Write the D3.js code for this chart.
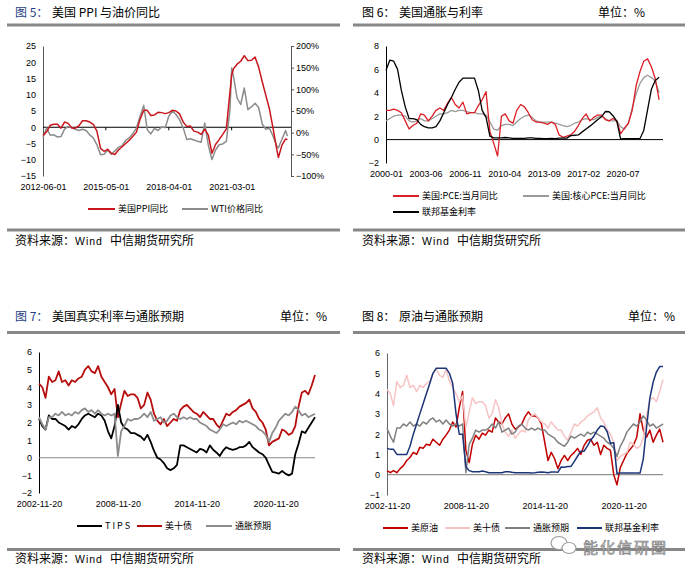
<!DOCTYPE html>
<html>
<head>
<meta charset="utf-8">
<script src="https://cdn.jsdelivr.net/npm/d3@7"></script>
<style>
body { margin: 0; background: #fff; }
svg text { font-family: "Noto Sans CJK SC", "Liberation Sans", sans-serif; }
.ax text { font-family: "Liberation Sans", Arial, sans-serif; font-size: 9px; fill: #000; }
</style>
</head>
<body>
<svg id="chart" width="691" height="575"></svg>
<script>
// ---- 图5: 美国PPI与油价同比 (monthly, read every ~2 months) ----
const ppiDates = ["2012-06","2012-08","2012-10","2012-12","2013-02","2013-04","2013-06","2013-08","2013-10","2013-12",
  "2014-02","2014-04","2014-06","2014-08","2014-10","2014-12","2015-02","2015-04","2015-06","2015-08",
  "2015-10","2015-12","2016-02","2016-04","2016-06","2016-08","2016-10","2016-12","2017-02","2017-04",
  "2017-06","2017-08","2017-10","2017-12","2018-02","2018-04","2018-06","2018-08","2018-10","2018-12",
  "2019-02","2019-04","2019-06","2019-08","2019-10","2019-12","2020-02","2020-04","2020-06","2020-08",
  "2020-10","2020-12","2021-02","2021-03","2021-04","2021-06","2021-08","2021-10","2021-12","2022-02",
  "2022-04","2022-06","2022-08","2022-10","2022-12","2023-02","2023-04","2023-05","2023-07","2023-09","2023-10"];
const ppiYoy = [-2.5,-1.4,0.6,0.9,0.9,-0.3,1.6,1.2,-0.2,-0.3,
  0.5,2.0,2.0,1.6,0.9,-1.2,-6.5,-7.4,-6.8,-8.0,
  -8.4,-7.0,-6.0,-5.0,-4.0,-2.8,-1.5,2.5,5.2,5.2,
  3.6,3.8,4.6,4.5,4.2,4.5,5.2,5.0,4.1,1.6,
  0.2,0.4,-1.2,-1.5,-2.2,-0.6,-2.5,-8.0,-5.3,-3.8,
  -2.2,-0.5,11.0,16.0,18.0,19.4,20.3,22.0,20.5,20.6,
  21.6,18.5,14.0,9.8,5.6,-0.4,-6.5,-9.3,-5.5,-3.6,-3.8];
const wtiYoy = [-12,11,-6,-5,-10,-9,8,14,11,8,
  5,8,5,-5,-12,-28,-51,-50,-40,-50,
  -42,-34,-30,-18,-12,-2,11,38,63,7,
  -3,10,5,13,12,38,50,42,30,11,
  -16,-14,-17,-20,-22,22,-30,-62,-40,-28,
  -26,-20,55,149,130,80,65,103,53,60,
  68,58,20,8,10,-8,-30,-35,-15,5,-8];
const ppiTicks = ["2012-06-01","2015-05-01","2018-04-01","2021-03-01"];

// ---- 图6: 美国通胀与利率 (every 4 months from 2000-01) ----
const pceYoy = [2.5,2.5,2.6,2.5,2.3,1.6,0.9,1.2,1.4,2.2,
  2.1,1.6,2.0,2.5,2.7,2.5,3.1,3.6,3.0,2.7,
  3.2,2.2,2.3,2.3,2.9,3.4,4.1,0.7,-0.3,-1.4,
  2.0,2.2,1.6,1.4,2.5,3.0,2.8,2.3,1.7,1.5,
  1.5,1.4,1.3,1.5,1.3,0.4,0.2,0.3,0.4,0.7,
  1.2,1.8,2.2,1.6,1.9,2.1,2.1,1.7,1.6,1.8,
  1.6,0.5,1.0,1.4,2.5,4.6,5.8,6.7,6.9,6.2,
  5.2,3.4];
const corePceYoy = [1.6,1.8,2.0,2.1,2.1,2.0,1.6,1.5,1.6,1.8,
  1.6,1.6,1.8,2.0,2.2,2.2,2.3,2.5,2.4,2.5,
  2.5,2.4,2.3,2.3,2.2,2.2,2.1,1.5,0.9,0.8,
  1.2,1.3,1.3,1.2,1.5,1.8,2.0,2.1,1.9,1.6,
  1.5,1.5,1.5,1.5,1.4,1.3,1.2,1.1,1.2,1.4,
  1.5,1.7,1.8,1.7,1.7,1.9,2.0,1.8,1.6,1.6,
  1.6,1.1,0.9,1.4,2.7,3.9,4.8,5.3,5.5,5.3,
  5.0,4.0];
const fedFundsA = [5.9,6.8,6.7,6.0,4.2,2.8,1.8,1.8,1.7,1.3,
  1.1,1.0,1.0,1.1,1.6,2.3,3.0,3.6,4.3,4.9,
  5.25,5.25,5.25,5.25,4.2,2.5,1.9,0.3,0.15,0.15,
  0.15,0.18,0.15,0.1,0.1,0.1,0.1,0.15,0.15,0.1,
  0.1,0.08,0.08,0.1,0.09,0.12,0.13,0.13,0.34,0.37,
  0.4,0.66,0.91,1.15,1.41,1.7,1.95,2.4,2.38,2.04,
  1.55,0.05,0.09,0.08,0.08,0.08,0.08,0.77,2.56,4.33,
  5.06,5.33];
const pceTicks = ["2000-01","2003-06","2006-11","2010-04","2013-09","2017-02","2020-07"];

// ---- 图7 / 图8 (quarterly readings from 2002-11-20) ----
const tenYear = [4.2,4.0,3.4,4.6,4.3,4.4,4.9,4.3,4.4,4.1,
  4.4,4.3,4.5,4.6,5.0,5.2,4.9,4.8,5.2,4.6,
  4.3,4.0,3.6,3.9,2.3,3.1,3.8,3.5,3.6,3.6,
  3.4,2.8,3.0,3.7,3.3,2.5,2.1,1.9,2.2,1.8,
  2.0,2.2,2.1,2.7,2.9,3.0,2.8,2.6,2.5,2.3,
  2.6,2.4,2.2,2.2,1.9,1.7,2.1,2.5,2.4,2.6,
  2.7,2.9,3.0,3.1,3.3,2.8,2.6,2.2,2.0,1.6,
  0.7,0.9,1.0,1.1,1.6,1.5,1.3,1.4,1.8,2.9,
  3.7,3.8,3.6,4.1,4.7];
const breakeven = [2.3,1.9,1.6,2.3,2.3,2.5,2.4,2.6,2.4,2.5,
  2.4,2.6,2.5,2.7,2.8,2.6,2.7,2.5,2.7,2.5,
  2.4,2.5,2.4,2.5,0.1,1.5,1.8,2.2,2.1,2.2,
  2.2,2.3,2.5,2.3,2.6,2.1,2.2,2.3,2.0,2.1,
  2.4,2.5,2.3,2.2,2.3,2.2,2.3,2.2,2.2,2.0,
  1.9,1.8,1.6,1.5,1.4,1.6,1.9,1.8,1.9,2.0,
  1.9,2.1,2.0,2.1,2.0,1.9,1.8,1.6,1.5,1.3,
  0.9,1.4,1.7,2.1,2.3,2.5,2.4,2.6,2.9,2.7,
  2.4,2.5,2.3,2.4,2.5];
const tips = [2.2,1.8,1.6,2.4,2.2,2.2,2.0,1.9,1.8,1.6,
  1.8,1.7,1.9,2.2,2.4,2.5,2.4,2.3,2.5,2.4,
  2.1,1.5,1.1,1.8,3.0,2.0,1.7,1.6,1.4,1.4,
  1.3,1.2,1.0,1.3,0.9,0.4,0.0,-0.1,-0.3,-0.6,
  -0.7,-0.6,-0.4,0.7,0.7,0.6,0.5,0.4,0.3,0.5,
  0.45,0.3,0.7,0.45,0.3,0.1,0.4,0.6,0.5,0.45,
  0.5,0.6,0.6,0.7,0.9,0.6,0.45,0.3,0.2,0.0,
  -0.4,-0.8,-0.85,-0.9,-0.75,-0.9,-1.0,-0.9,0.2,0.8,
  1.5,1.4,1.7,2.0,2.3];
const crudeOil = [0.2,0.1,0.2,0.1,0.3,0.45,0.7,0.85,1.1,1.0,
  1.35,1.3,1.5,1.45,1.75,1.6,1.45,1.75,1.95,2.2,
  2.6,2.35,3.3,4.1,1.2,0.6,1.5,1.95,1.75,2.05,
  1.95,2.2,2.1,2.8,2.6,2.5,2.8,3.0,2.5,2.25,
  2.35,2.5,2.85,3.1,2.9,2.9,2.8,2.5,1.6,0.7,
  1.1,0.8,0.3,0.7,0.95,0.7,0.95,1.1,1.3,1.0,
  1.45,1.7,1.75,1.45,1.6,1.0,1.45,1.3,1.2,0.0,
  -0.5,0.35,0.7,1.05,1.25,1.45,1.85,3.0,2.2,1.85,
  2.2,1.6,1.95,2.25,1.6];
const fedFundsB = [1.3,1.25,1.25,1.0,1.0,1.0,1.0,1.4,2.0,2.5,
  3.0,3.5,4.0,4.5,5.0,5.25,5.25,5.25,5.25,5.0,
  4.5,3.0,2.0,2.0,0.4,0.2,0.15,0.15,0.15,0.18,
  0.15,0.1,0.1,0.1,0.1,0.1,0.15,0.15,0.12,0.1,
  0.1,0.1,0.1,0.1,0.09,0.1,0.12,0.13,0.12,0.1,
  0.13,0.14,0.12,0.38,0.37,0.4,0.41,0.66,0.91,1.16,
  1.16,1.42,1.7,1.91,2.2,2.4,2.38,2.13,1.55,1.58,
  0.05,0.09,0.09,0.08,0.08,0.08,0.08,0.08,0.77,2.33,
  3.78,4.57,5.06,5.33,5.33];
const dailyTicks = ["2002-11-20","2008-11-20","2014-11-20","2020-11-20"];

const svg = d3.select("#chart");
svg.append("rect").attr("width", 691).attr("height", 575).attr("fill", "#fff");

const parseYM = d3.timeParse("%Y-%m");
const parseYMD = d3.timeParse("%Y-%m-%d");
const pceDates = d3.timeMonth.range(new Date(2000, 0, 1), new Date(2024, 0, 1), 4);
const qDates = d3.range(tenYear.length).map(k => new Date(2002, 10 + 3 * k, 20));

function title(x, y, prefix, text, prefixColor, unitX) {
    const t = svg.append("text").attr("y", y).attr("font-size", 12);
    t.append("tspan").attr("x", x).attr("fill", prefixColor).text(prefix);
    t.append("tspan").attr("x", x + 37).attr("fill", "#000").text(text);
    if (unitX) {
        svg.append("text").attr("x", unitX).attr("y", y).attr("font-size", 12).text("单位：%");
    }
}

function rule(x1, x2, y) {
    svg.append("rect").attr("x", x1).attr("y", y - 1.5).attr("width", x2 - x1).attr("height", 3).attr("fill", "#878787");
}

function source(x, y) {
    const t = svg.append("text").attr("y", y).attr("font-size", 12).attr("fill", "#000");
    t.append("tspan").attr("x", x).text("资料来源：");
    t.append("tspan").attr("x", x + 60).attr("font-family", "Liberation Sans").attr("font-size", 10.5)
        .attr("letter-spacing", 1).text("Wind");
    t.append("tspan").attr("x", x + 95).text("中信期货研究所");
}

function legendItem(x1, x2, y, color, label, spacing) {
    svg.append("line").attr("x1", x1).attr("x2", x2).attr("y1", y).attr("y2", y)
        .attr("stroke", color).attr("stroke-width", 2);
    svg.append("text").attr("x", x2 + 3).attr("y", y).attr("dy", "0.35em")
        .attr("font-size", 9).attr("letter-spacing", spacing || 0).text(label);
}

function series(dates, vals, x, y, color, w) {
    const pts = dates.map((d, i) => [d, vals[i]]);
    svg.append("path").datum(pts)
        .attr("fill", "none").attr("stroke", color).attr("stroke-width", w)
        .attr("stroke-linejoin", "round")
        .attr("d", d3.line().x(d => x(d[0])).y(d => y(d[1])));
}

function leftAxis(y, ticks, x, color) {
    const a = svg.append("g").attr("class", "ax").attr("transform", `translate(${x},0)`)
        .call(d3.axisLeft(y).tickValues(ticks).tickSize(0).tickPadding(7).tickSizeOuter(0)
            .tickFormat(d3.format("d")));
    a.select(".domain").attr("stroke", color);
}

function bottomLabels(x, ticks, yPos, fmt) {
    svg.append("g").attr("class", "ax").attr("transform", `translate(0,${yPos})`)
        .call(d3.axisBottom(x).tickValues(ticks).tickSize(0).tickPadding(8).tickFormat(d3.timeFormat(fmt)))
        .select(".domain").remove();
}

function zeroLine(x1, x2, y0, color) {
    svg.append("line").attr("x1", x1).attr("x2", x2).attr("y1", y0).attr("y2", y0)
        .attr("stroke", color).attr("stroke-width", 1);
}

// ================= 图5 =================
title(15, 17, "图 5：", "美国 PPI 与油价同比", "#1f3f86");
rule(7, 340, 25);
{
    const x = d3.scaleTime().domain([parseYMD("2012-06-01"), parseYMD("2023-12-01")]).range([43, 291]);
    const yL = d3.scaleLinear().domain([-15, 25]).range([176, 46]);
    const yR = d3.scaleLinear().domain([-100, 200]).range([176, 46]);
    const dates = ppiDates.map(parseYM);
    leftAxis(yL, [-15, -10, -5, 0, 5, 10, 15, 20, 25], 43, "#555");
    const r = svg.append("g").attr("class", "ax").attr("transform", "translate(291,0)")
        .call(d3.axisRight(yR).tickValues([-100, -50, 0, 50, 100, 150, 200]).tickSize(3).tickPadding(2)
            .tickSizeOuter(0).tickFormat(d => d3.format("d")(d) + "%"));
    r.select(".domain").attr("stroke", "#555");
    r.selectAll(".tick line").attr("stroke", "#555");
    const ticks = ppiTicks.map(parseYMD);
    bottomLabels(x, ticks, 176, "%Y-%m-%d");
    zeroLine(43, 291, yL(0), "#000");
    ticks.slice(1).forEach(t => svg.append("line").attr("x1", x(t)).attr("x2", x(t))
        .attr("y1", yL(0)).attr("y2", yL(0) + 3).attr("stroke", "#000"));
    series(dates, wtiYoy, x, yR, "#8c8c8c", 1.5);
    series(dates, ppiYoy, x, yL, "#c8161d", 1.5);
    legendItem(88, 115, 209, "#c8161d", "美国PPI同比");
    legendItem(182, 208, 209, "#8c8c8c", "WTI价格同比");
}
rule(7, 340, 230);
source(15, 245);

// ================= 图6 =================
title(362, 17, "图 6：", "美国通胀与利率", "#000", 598);
rule(353, 685, 25);
{
    const x = d3.scaleTime().domain([new Date(2000, 0, 1), new Date(2024, 0, 1)]).range([386, 663]);
    const y = d3.scaleLinear().domain([-2, 8]).range([163, 46]);
    leftAxis(y, [-2, 0, 2, 4, 6, 8], 386, "#000");
    bottomLabels(x, pceTicks.map(parseYM), 163, "%Y-%m");
    zeroLine(386, 663, y(0), "#000");
    series(pceDates, corePceYoy, x, y, "#9a9a9a", 1.3);
    series(pceDates, pceYoy, x, y, "#dc1f26", 1.3);
    series(pceDates, fedFundsA, x, y, "#000", 1.3);
    legendItem(393, 419, 196, "#dc1f26", "美国:PCE:当月同比");
    legendItem(523, 549, 196, "#9a9a9a", "美国:核心PCE:当月同比");
    legendItem(393, 419, 212, "#000", "联邦基金利率");
}
rule(353, 685, 230);
source(362, 245);

// ================= 图7 =================
title(15, 321, "图 7：", "美国真实利率与通胀预期", "#1f3f86", 280);
rule(7, 340, 332.5);
{
    const x = d3.scaleTime().domain([parseYMD("2002-11-20"), parseYMD("2023-11-20")]).range([39, 315]);
    const y = d3.scaleLinear().domain([-2, 6]).range([493, 352]);
    leftAxis(y, [-2, -1, 0, 1, 2, 3, 4, 5, 6], 39, "#000");
    bottomLabels(x, dailyTicks.map(parseYMD), 493, "%Y-%m-%d");
    zeroLine(39, 315, y(0), "#8a8a8a");
    series(qDates, tenYear, x, y, "#b80d0d", 1.8);
    series(qDates, tips, x, y, "#000", 1.8);
    series(qDates, breakeven, x, y, "#8c8c8c", 1.8);
    legendItem(77, 102, 526, "#000", "TIPS", 2);
    legendItem(137, 162, 526, "#b80d0d", "美十债");
    legendItem(206, 232, 526, "#8c8c8c", "通胀预期");
}
rule(7, 340, 549.5);
source(15, 563);

// ================= 图8 =================
title(362, 321, "图 8：", "原油与通胀预期", "#000", 628);
rule(353, 685, 332.5);
{
    const x = d3.scaleTime().domain([parseYMD("2002-11-20"), parseYMD("2023-11-20")]).range([387, 663]);
    const y = d3.scaleLinear().domain([-1, 6]).range([495, 353]);
    leftAxis(y, [-1, 0, 1, 2, 3, 4, 5, 6], 387, "#666");
    bottomLabels(x, dailyTicks.map(parseYMD), 495, "%Y-%m-%d");
    zeroLine(387, 663, y(0), "#777");
    series(qDates, crudeOil, x, y, "#c00000", 1.5);
    series(qDates, tenYear, x, y, "#f6c4c4", 1.5);
    series(qDates, breakeven, x, y, "#808080", 1.5);
    series(qDates, fedFundsB, x, y, "#1c3578", 1.5);
    legendItem(383, 408, 528, "#c00000", "美原油");
    legendItem(445, 470, 528, "#f6c4c4", "美十债");
    legendItem(505, 530, 528, "#808080", "通胀预期");
    legendItem(577, 602, 528, "#1c3578", "联邦基金利率");
}
rule(353, 685, 549.5);
source(362, 563);

// watermark
{
    const g = svg.append("g").attr("fill", "#fff").attr("stroke", "#9a9a9a").attr("stroke-width", 1.2);
    g.append("ellipse").attr("cx", 559).attr("cy", 543).attr("rx", 8).attr("ry", 6.5);
    g.append("ellipse").attr("cx", 569).attr("cy", 548).attr("rx", 7).attr("ry", 5.5);
    svg.append("text").attr("x", 583).attr("y", 553).attr("font-size", 15).attr("letter-spacing", 2)
        .attr("fill", "#d4d4d4").attr("stroke", "#7a7a7a").attr("stroke-width", 0.6)
        .text("能化信研圈");
}
</script>
</body>
</html>
